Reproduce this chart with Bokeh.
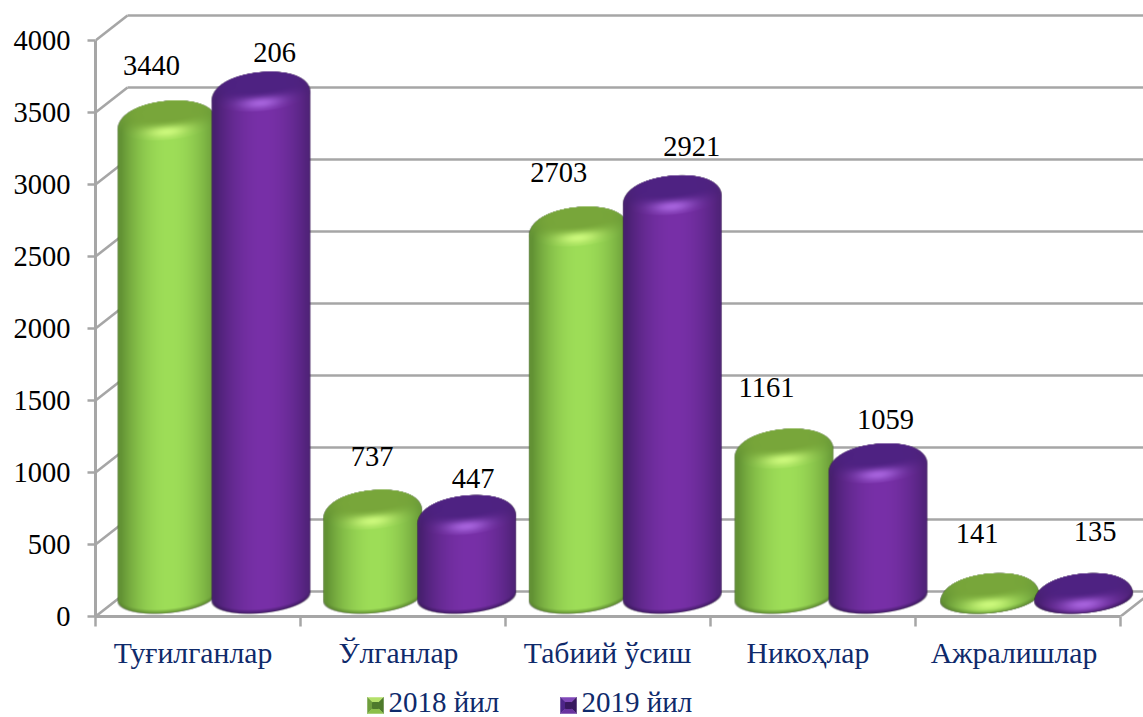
import numpy as np
from bokeh.plotting import figure
from bokeh.layouts import column
from bokeh.embed import file_html
from bokeh.resources import INLINE
from bokeh.core.properties import value
from bokeh.models import ColumnDataSource, FixedTicker, Range1d, LinearAxis

categories = ["Туғилганлар", "Ўлганлар", "Табиий ўсиш", "Никоҳлар", "Ажралишлар"]
heights_2018 = [3440, 737, 2703, 1161, 141]
heights_2019 = [3640, 700, 2921, 1059, 135]
labels_2018 = ["3440", "737", "2703", "1161", "141"]
labels_2019 = ["206", "447", "2921", "1059", "135"]
y_ticks = [0, 500, 1000, 1500, 2000, 2500, 3000, 3500, 4000]
series_names = ["2018 йил", "2019 йил"]

# ---- layout (pixels) ----
W, H_TOTAL, H = 1143, 717, 680
LEFT = 95
FLOOR = 616          # frame bottom in the figure
CAT_PX = 205.0
BAR_STEP = 1.0032    # the bar groups sit slightly wider apart than the ticks
PX_PER_UNIT = 0.144
DEPTH_X, DEPTH_Y = 32, 25
BASE_VAL = 130.0     # floor position of the cylinders' base centre
SHOULDER_DROP = 28.0 # the rounded top starts this far under the value
A, B_R = 48.5, 15.5  # ellipse radii
BEVEL = 14.0
TOP_SHRINK = 0.45
TILT = 0.085
SERIF = "Liberation Serif"
NAVY = "#0F2A6B"
GRID = "#A6A6A6"

x_end = (W - LEFT) / CAT_PX
y_top = FLOOR / PX_PER_UNIT
p = figure(width=W, height=H, output_backend="svg", toolbar_location=None,
           x_range=Range1d(0, x_end), y_range=Range1d(0, y_top),
           min_border_left=LEFT, min_border_right=0, min_border_top=0,
           min_border_bottom=H - FLOOR, x_axis_type=None, y_axis_type=None)
p.outline_line_color = None
p.grid.visible = False
p.background_fill_color = "white"

dx_depth = DEPTH_X / CAT_PX
dy_depth = DEPTH_Y / PX_PER_UNIT

# back-wall grid lines and the diagonals of the side wall
p.segment(x0=[dx_depth] * len(y_ticks), x1=[x_end] * len(y_ticks),
          y0=[t + dy_depth for t in y_ticks], y1=[t + dy_depth for t in y_ticks],
          line_color=GRID, line_width=2.6)
p.segment(x0=[0] * len(y_ticks), x1=[dx_depth] * len(y_ticks),
          y0=y_ticks, y1=[t + dy_depth for t in y_ticks],
          line_color=GRID, line_width=2.6)
n_cat = len(categories)
p.segment(x0=[n_cat], x1=[n_cat + dx_depth], y0=[0], y1=[dy_depth],
          line_color=GRID, line_width=2.6)

# axes
yax = LinearAxis(ticker=FixedTicker(ticks=y_ticks), bounds=(0, 4000))
yax.axis_line_color = GRID
yax.axis_line_width = 3
yax.major_tick_line_color = GRID
yax.major_tick_line_width = 2.5
yax.major_tick_out = 8
yax.major_tick_in = 0
yax.minor_tick_line_color = None
yax.major_label_text_font = SERIF
yax.major_label_text_font_size = "28.5px"
yax.major_label_text_color = "black"
yax.major_label_standoff = 17
p.add_layout(yax, "left")

LABEL_SHIFT_PX = [-5, -4.5, -0.5, -5, -4]
centers = [i + 0.5 + s / CAT_PX for i, s in zip(range(n_cat), LABEL_SHIFT_PX)]
xax = LinearAxis(ticker=FixedTicker(ticks=centers, minor_ticks=list(range(n_cat + 1))),
                 bounds=(0, n_cat))
xax.major_label_overrides = {c: n for c, n in zip(centers, categories)}
xax.axis_line_color = GRID
xax.axis_line_width = 3
xax.major_tick_line_color = None
xax.major_tick_out = 0
xax.major_tick_in = 0
xax.minor_tick_line_color = GRID
xax.minor_tick_line_width = 2.5
xax.minor_tick_out = 10
xax.minor_tick_in = 0
xax.major_label_text_font = SERIF
xax.major_label_text_font_size = "29.7px"
xax.major_label_text_color = NAVY
xax.major_label_standoff = 10
p.add_layout(xax, "below")

PALETTES = {
    "g": dict(edge=(98, 146, 52), center=(158, 222, 88), hi=(205, 250, 125),
              plate=(120, 166, 58), base=(88, 130, 45), solid="#8CC63F",
              sw=("#B4E06A", "#6E9E3C", "#8CBF4A", "#4E7A2C")),
    "p": dict(edge=(72, 32, 112), center=(120, 48, 168), hi=(168, 100, 222),
              plate=(78, 34, 130), base=(58, 24, 92), solid="#6A2C9C",
              sw=("#8048B8", "#4C2488", "#6A34A0", "#38185F")),
}


def cylinder_rgba(height, pal):
    """Shaded cylinder for a bar; image row 0 is the bottom row."""
    body = max((height - SHOULDER_DROP - BASE_VAL) * PX_PER_UNIT, 0.0)
    total = body + BEVEL
    margin = 3
    iw = int(2 * (A + margin))
    ih = int(np.ceil(total + 2 * B_R + 2 * A * TILT + 2 * margin))
    y0 = B_R + A * TILT + margin       # row of the base centre
    X = np.arange(iw) + 0.5 - iw / 2
    Yg = np.arange(ih) + 0.5 - y0
    XX, YY = np.meshgrid(X, Yg)
    rgb = np.zeros((ih, iw, 3))
    alpha = np.zeros((ih, iw))
    edge, center, hi = (np.array(pal[k], float) for k in ("edge", "center", "hi"))
    plate, base = np.array(pal["plate"], float), np.array(pal["base"], float)

    def disc(h, r, phi):
        ar, br = A * r, B_R * r
        dx = XX
        dy = YY - h - TILT * dx
        rho = np.sqrt((dx / ar) ** 2 + (dy / br) ** 2)
        cov = np.clip((1 - rho) * br + 0.5, 0, 1)
        nx = np.clip(dx / ar, -1, 1)
        front = np.clip(-dy / br, -1, 1)
        t = 1 - np.abs(nx - 0.05) ** 2.0
        t = np.clip(t, 0, 1)[..., None]
        col = edge + (center - edge) * t
        if h < 4:
            col = col + (base - col) * (0.8 * (1 - h / 4))
        m = np.sin(phi) ** 1.6
        col = col + (plate - col) * m
        if phi > 0:
            g = np.exp(-(nx / 0.5) ** 2) * np.exp(-((phi - 0.55) / 0.4) ** 2) * np.clip(front, 0, 1)
            col = col + (hi - col) * g[..., None]
        a = cov[..., None]
        rgb[:] = rgb * (1 - a) + col * a
        alpha[:] = alpha + (1 - alpha) * cov

    for h in np.arange(0, body + 0.01, 1.0):
        disc(h, 1.0, 0.0)
    for phi in np.linspace(0.0, np.pi / 2, 30):
        disc(body + BEVEL * np.sin(phi), 1 - TOP_SHRINK * (1 - np.cos(phi)), phi)

    out = np.zeros((ih, iw), dtype=np.uint32)
    view = out.view(np.uint8).reshape((ih, iw, 4))
    view[..., :3] = np.clip(rgb, 0, 255).astype(np.uint8)
    view[..., 3] = np.clip(alpha * 255, 0, 255).astype(np.uint8)
    return out, iw, ih, y0


GREEN_OFF = 71.5 / CAT_PX
PURPLE_OFF = 165.5 / CAT_PX
series = [("g", heights_2018, labels_2018, GREEN_OFF),
          ("p", heights_2019, labels_2019, PURPLE_OFF)]

# solid core of every bar
for key, vals, _, off in series:
    p.vbar(x=[i * BAR_STEP + off for i in range(n_cat)], top=vals, bottom=[BASE_VAL] * n_cat,
           width=1.7 * A / CAT_PX, fill_color=PALETTES[key]["solid"], line_color=None)

# shading of the cylinders
for i in range(n_cat):
    for key, vals, _, off in series:
        img, iw, ih, y0 = cylinder_rgba(vals[i], PALETTES[key])
        p.image_rgba(image=[img], x=[i * BAR_STEP + off - iw / 2 / CAT_PX],
                     y=[BASE_VAL - y0 / PX_PER_UNIT],
                     dw=[iw / CAT_PX], dh=[ih / PX_PER_UNIT])

# data labels: hand placed in the reference, offsets from the bar's shoulder in px
OFFS_G = [(-15.5, -56), (-0.5, -54), (-19.5, -55), (-17.5, -62), (-12.5, -63)]
OFFS_P = [(13.5, -40), (6.5, -37), (19.5, -49), (7.5, -44.5), (11.5, -65.5)]
lx, ly, lt, ldx, ldy = [], [], [], [], []
for (key, vals, labs, off), offs in zip(series, (OFFS_G, OFFS_P)):
    for i in range(n_cat):
        lx.append(i * BAR_STEP + off)
        ly.append(vals[i])
        lt.append(labs[i])
        ldx.append(offs[i][0])
        ldy.append(offs[i][1])
src = ColumnDataSource(dict(x=lx, y=ly, t=lt, dx=ldx, dy=ldy))
p.text(x="x", y="y", text="t", x_offset="dx", y_offset="dy", source=src,
       text_font=value(SERIF), text_font_size="28.5px", text_color="black",
       text_align="center", text_baseline="middle")

# legend strip, in the page's own pixel coordinates (its frame lines up with the chart's)
lg = figure(width=W, height=H_TOTAL - H, output_backend="svg", toolbar_location=None,
            x_range=Range1d(LEFT, W), y_range=Range1d(H_TOTAL, H),
            min_border=0, x_axis_type=None, y_axis_type=None)
lg.outline_line_color = None
lg.grid.visible = False


def bevel_swatch(x, y, s, colours):
    i = 5
    top, left, bottom, right = colours
    faces = [
        ([x, x + s, x + s - i, x + i], [y, y, y + i, y + i], top),
        ([x, x + i, x + i, x], [y, y + i, y + s - i, y + s], left),
        ([x + s, x + s, x + s - i, x + s - i], [y, y + s, y + s - i, y + i], right),
        ([x, x + s, x + s - i, x + i], [y + s, y + s, y + s - i, y + s - i], bottom),
    ]
    lg.patches(xs=[f[0] for f in faces], ys=[f[1] for f in faces],
               fill_color=[f[2] for f in faces], line_color=[f[2] for f in faces], line_width=0.5)
    lg.quad(left=[x + i], right=[x + s - i], top=[y + i], bottom=[y + s - i],
            fill_color=colours[3], line_color=colours[3])


bevel_swatch(367, 697, 16, PALETTES["g"]["sw"])
bevel_swatch(560, 697, 16, PALETTES["p"]["sw"])
lg.text(x=[388, 581], y=[701, 701], text=series_names, text_font=value(SERIF),
        text_font_size="29px", text_color=NAVY, text_align="left", text_baseline="middle")

layout = column(p, lg, spacing=0)
open("out.html", "w").write(file_html(layout, INLINE))
